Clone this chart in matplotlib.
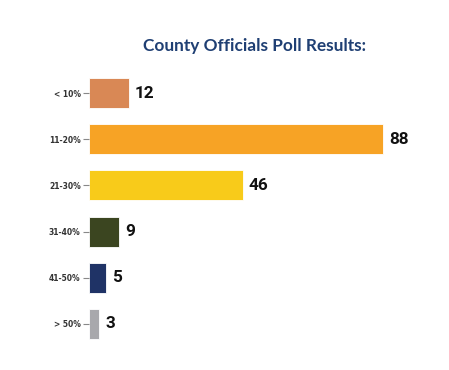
import matplotlib
matplotlib.use("Agg")
import matplotlib.pyplot as plt

categories = ["< 10%", "11-20%", "21-30%", "31-40%", "41-50%", "> 50%"]
values = [12, 88, 46, 9, 5, 3]
colors = ["#D98855", "#F7A325", "#F8CB1A", "#3B4520", "#1F3366", "#A8A8AC"]
title = "County Officials Poll Results:"

fig = plt.figure(figsize=(4.49, 3.70), dpi=100)
ax = fig.add_axes([89/449, 1-347/370, 334/449, 277/370])
y = list(range(len(categories)))
ax.barh(y, values, height=0.65, color=colors, edgecolor="#ffffff", linewidth=0.6)
ax.set_ylim(5.5, -0.5)
ax.set_xlim(0, 100)
ax.set_yticks(y)
ax.set_yticklabels(categories, fontsize=5.5, fontweight="bold", color="#333333",
                   family=["DejaVu Sans"])
ax.tick_params(axis="y", length=4, width=0.8, color="#888888", pad=2)
ax.set_xticks([])
for s in ax.spines.values():
    s.set_visible(False)
for yi, v in zip(y, values):
    ax.text(v + 1.8, yi, str(v), va="center", ha="left", fontsize=12.3,
            fontweight="bold", color="#111111", family=["Roboto", "DejaVu Sans"])
fig.text(254/449, 1-46/370, title, ha="center", va="center", fontsize=12.4,
         fontweight="bold", color="#1F3F73", family=["Lato", "DejaVu Sans"])
fig.savefig("out.png", dpi=100)
